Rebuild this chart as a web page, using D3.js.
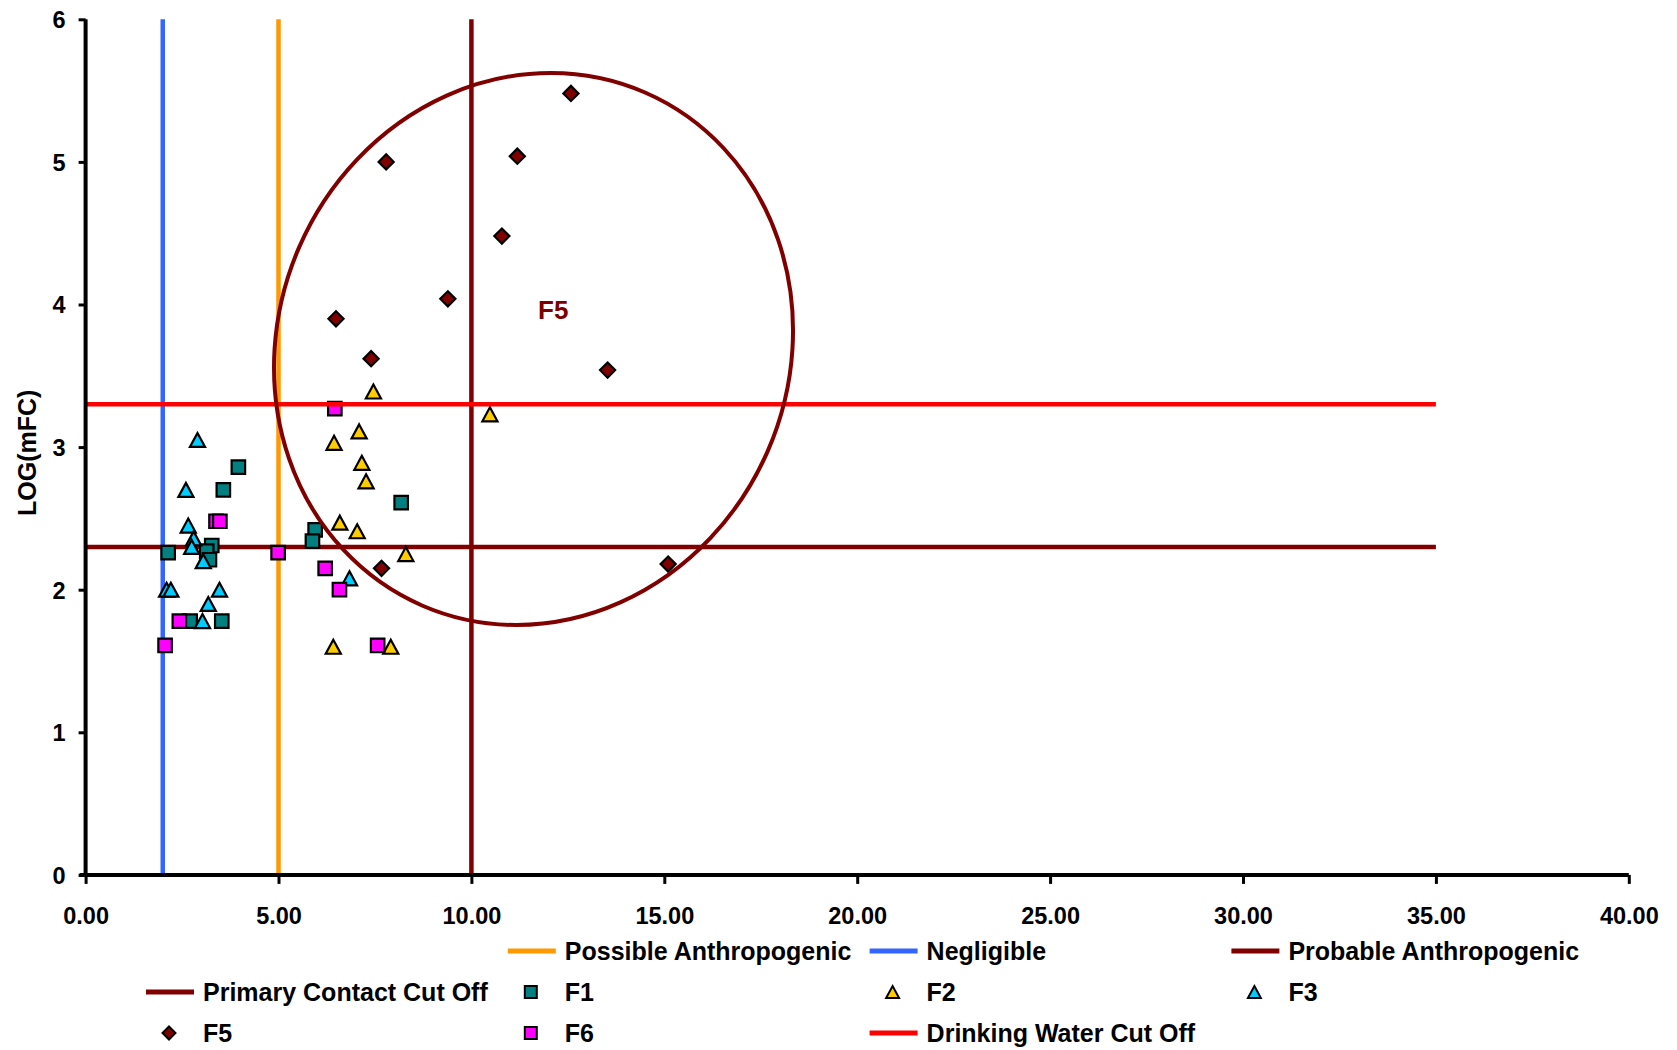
<!DOCTYPE html>
<html><head><meta charset="utf-8">
<script src="https://cdn.jsdelivr.net/npm/d3@7"></script>
<style>
body{margin:0;background:#fff}
svg{display:block;font-family:"Liberation Sans",Arial,sans-serif;font-weight:bold}
</style>
</head><body>
<svg id="chart" width="1677" height="1050"></svg>
<script>
// ---------- data ----------
const xTicks = [0, 5, 10, 15, 20, 25, 30, 35, 40];
const yTicks = [0, 1, 2, 3, 4, 5, 6];
const yLabel = "LOG(mFC)";

const vLineNames = ["Possible Anthropogenic", "Negligible", "Probable Anthropogenic"];
const vLineValues = [5, 2, 10];
const hLineNames = ["Primary Contact Cut Off", "Drinking Water Cut Off"];
const hLineValues = [2.3, 3.3];
const hLineEnd = 35;

const F1_x = [3.96, 3.57, 8.18, 5.95, 5.88, 3.27, 2.14, 3.14, 3.21, 2.71, 3.53];
const F1_y = [2.86, 2.70, 2.61, 2.42, 2.34, 2.31, 2.26, 2.27, 2.21, 1.78, 1.78];
const F2_x = [7.46, 7.09, 6.44, 7.16, 7.27, 6.59, 7.04, 8.30, 6.42, 7.91, 10.48];
const F2_y = [3.39, 3.11, 3.03, 2.89, 2.76, 2.47, 2.41, 2.25, 1.60, 1.60, 3.23];
const F3_x = [2.90, 2.60, 2.66, 2.80, 2.75, 3.05, 2.10, 2.21, 3.47, 3.18, 3.03, 6.84];
const F3_y = [3.05, 2.70, 2.45, 2.36, 2.30, 2.20, 2.00, 2.00, 2.00, 1.90, 1.78, 2.08];
const F5_x = [12.58, 11.19, 7.79, 10.79, 9.39, 13.53, 6.49, 7.40, 7.67, 15.10];
const F5_y = [5.48, 5.04, 5.00, 4.48, 4.04, 3.54, 3.90, 3.62, 2.15, 2.18];
const F6_x = [6.46, 3.38, 3.48, 4.99, 6.21, 6.58, 2.43, 2.06, 7.57];
const F6_y = [3.27, 2.48, 2.48, 2.26, 2.15, 2.00, 1.78, 1.61, 1.61];

const legendOrder = ["Possible Anthropogenic", "Negligible", "Probable Anthropogenic",
  "Primary Contact Cut Off", "F1", "F2", "F3", "F5", "F6", "Drinking Water Cut Off"];

const groupLabel = "F5";
const groupLabelAt = [12.12, 3.90];
const groupCenter = [11.61, 3.688];

// ---------- styles ----------
const colors = {
  "Possible Anthropogenic": "#FF9900",
  "Negligible": "#3366FF",
  "Probable Anthropogenic": "#800000",
  "Primary Contact Cut Off": "#800000",
  "Drinking Water Cut Off": "#FF0000",
  "F1": "#008080", "F2": "#FFCC00", "F3": "#00CCFF", "F5": "#800000", "F6": "#FF00FF"
};
const shapes = { F1: "square", F2: "triangle", F3: "triangle", F5: "diamond", F6: "square" };

const svg = d3.select("#chart");
const x = d3.scaleLinear().domain([0, 40]).range([85.6, 1628.8]);
const y = d3.scaleLinear().domain([0, 6]).range([874.9, 19.3]);

function markerPath(shape, s) {
  if (shape === "square") return `M${-s/2},${-s/2}h${s}v${s}h${-s}Z`;
  if (shape === "triangle") { const w = s * 1.08, h = s; return `M0,${-h/2}L${w/2},${h/2}L${-w/2},${h/2}Z`; }
  if (shape === "diamond") { const d = s * 1.08; return `M0,${-d/2}L${d/2},0L0,${d/2}L${-d/2},0Z`; }
}

const plot = svg.append("g");

// vertical reference lines
vLineNames.forEach((n, i) => {
  plot.append("line")
    .attr("x1", x(vLineValues[i])).attr("x2", x(vLineValues[i]))
    .attr("y1", y(0)).attr("y2", y(6))
    .attr("stroke", colors[n]).attr("stroke-width", 4.5);
});

function hLine(i) {
  const n = hLineNames[i];
  plot.append("line")
    .attr("x1", x(0)).attr("x2", x(hLineEnd))
    .attr("y1", y(hLineValues[i])).attr("y2", y(hLineValues[i]))
    .attr("stroke", colors[n]).attr("stroke-width", 4.5);
}
hLine(0);

const series = [
  { name: "F1", xs: F1_x, ys: F1_y },
  { name: "F2", xs: F2_x, ys: F2_y },
  { name: "F3", xs: F3_x, ys: F3_y },
  { name: "F5", xs: F5_x, ys: F5_y },
  { name: "F6", xs: F6_x, ys: F6_y }
];
const markerSize = { square: 13.5, triangle: 14, diamond: 14 };
series.forEach(s => {
  const pts = s.xs.map((v, i) => [v, s.ys[i]]);
  plot.append("g").selectAll("path").data(pts).join("path")
    .attr("transform", d => `translate(${x(d[0])},${y(d[1])})`)
    .attr("d", markerPath(shapes[s.name], markerSize[shapes[s.name]]))
    .attr("fill", colors[s.name])
    .attr("stroke", "#000").attr("stroke-width", 2.2)
    .attr("stroke-linejoin", "miter");
});

hLine(1);

// ellipse annotation
plot.append("ellipse")
  .attr("transform", `translate(${x(groupCenter[0])},${y(groupCenter[1])}) rotate(23.5)`)
  .attr("rx", 255.5).attr("ry", 279.7)
  .attr("fill", "none").attr("stroke", "#800000").attr("stroke-width", 4);

plot.append("text")
  .attr("x", x(groupLabelAt[0])).attr("y", y(groupLabelAt[1]))
  .attr("text-anchor", "middle")
  .attr("font-size", 26).attr("fill", "#800000")
  .text(groupLabel);

// axes
const xAxis = svg.append("g").attr("transform", `translate(0,${y(0)})`)
  .call(d3.axisBottom(x).tickValues(xTicks).tickFormat(d3.format(".2f")).tickSize(9).tickSizeOuter(0));
const yAxis = svg.append("g").attr("transform", `translate(${x(0)},0)`)
  .call(d3.axisLeft(y).tickValues(yTicks).tickFormat(d3.format("d")).tickSize(7).tickSizeOuter(0));

[xAxis, yAxis].forEach(a => {
  a.select(".domain").attr("stroke", "#000").attr("stroke-width", 4);
  a.selectAll(".tick line").attr("stroke", "#000").attr("stroke-width", 3);
  a.selectAll(".tick text").attr("fill", "#000").attr("font-size", 23.5)
    .attr("font-family", '"Liberation Sans", Arial, sans-serif').attr("font-weight", "bold");
});
xAxis.select(".domain").attr("d", `M${x(0) - 6},0H${x(40)}`);
yAxis.select(".domain").attr("d", `M0,${y(6)}V${y(0)}`);
xAxis.selectAll(".tick text").attr("y", 49).attr("dy", 0);
yAxis.selectAll(".tick text").attr("x", -20).attr("dy", "0.36em");

svg.append("text")
  .attr("transform", `translate(36,${y(2.96)}) rotate(-90)`)
  .attr("text-anchor", "middle").attr("font-size", 25).attr("fill", "#000")
  .text(yLabel);

// legend
const legend = svg.append("g");
const colX0 = 203, colStep = 361.8, rowY0 = 951, rowStep = 41;
legendOrder.forEach((n, i) => {
  const slot = i + 1;
  const row = Math.floor(slot / 4), col = slot % 4;
  const tx = colX0 + col * colStep, ty = rowY0 + row * rowStep;
  const g = legend.append("g");
  if (shapes[n]) {
    g.append("path")
      .attr("transform", `translate(${tx - 34},${ty})`)
      .attr("d", markerPath(shapes[n], 12))
      .attr("fill", colors[n]).attr("stroke", "#000").attr("stroke-width", 2);
  } else {
    g.append("line").attr("x1", tx - 57).attr("x2", tx - 9).attr("y1", ty).attr("y2", ty)
      .attr("stroke", colors[n]).attr("stroke-width", 5);
  }
  g.append("text").attr("x", tx).attr("y", ty).attr("dy", "0.36em")
    .attr("font-size", 25).attr("fill", "#000").text(n);
});
</script>
</body></html>
